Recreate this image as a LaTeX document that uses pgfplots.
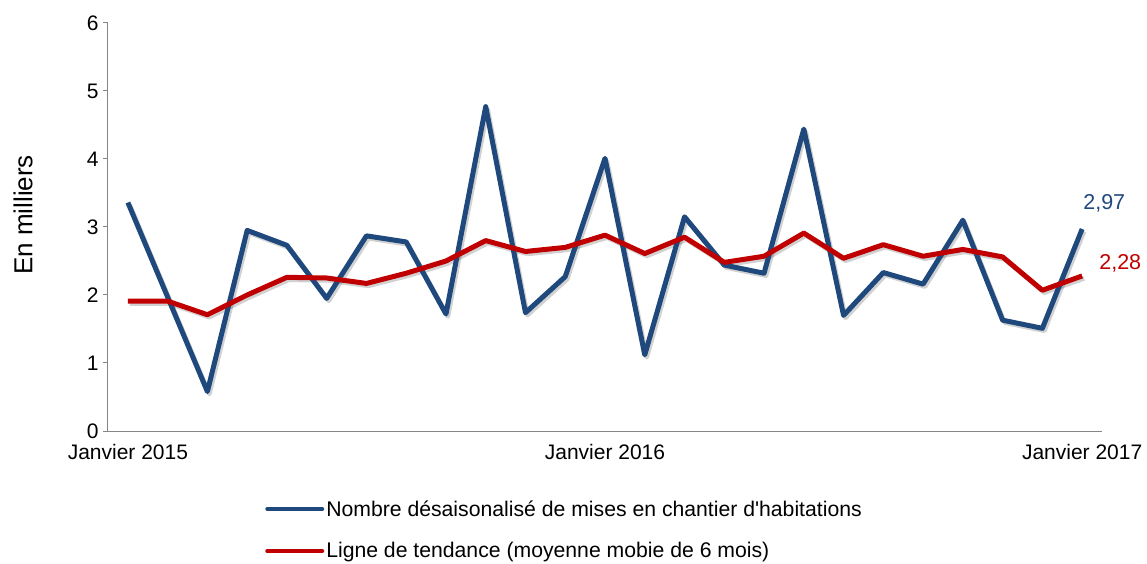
\documentclass[border=0pt]{standalone}
\usepackage{fontspec}
\setmainfont{Liberation Sans}
\newfontfamily\lsans{Liberation Sans}
\usepackage{pgfplots}
\usepackage{pgfplotstable}
\pgfplotsset{compat=1.18}
\definecolor{cblue}{RGB}{31,73,125}
\definecolor{cred}{RGB}{192,0,0}
\definecolor{caxis}{RGB}{134,134,134}

\pgfplotstableread{
x y
0 3.36
1 1.97
2 0.58
3 2.95
4 2.73
5 1.95
6 2.87
7 2.78
8 1.72
9 4.77
10 1.74
11 2.27
12 4.01
13 1.12
14 3.15
15 2.44
16 2.32
17 4.44
18 1.70
19 2.33
20 2.16
21 3.10
22 1.63
23 1.51
24 2.97
}\blueseries

\pgfplotstableread{
x y
0 1.91
1 1.91
2 1.71
3 2.00
4 2.26
5 2.25
6 2.17
7 2.32
8 2.50
9 2.80
10 2.64
11 2.70
12 2.88
13 2.61
14 2.85
15 2.48
16 2.57
17 2.91
18 2.54
19 2.74
20 2.57
21 2.67
22 2.56
23 2.07
24 2.28
}\redseries

\begin{document}
\begin{tikzpicture}
\useasboundingbox (-108pt,-133pt) rectangle (1039pt,431pt);
\begin{axis}[
  at={(0,0)}, anchor=south west,
  scale only axis, width=994pt, height=408pt,
  xmin=-0.5, xmax=24.5, ymin=0, ymax=6,
  axis lines*=left,
  axis line style={caxis, line width=1pt},
  xtick={0,12,24},
  xticklabels={Janvier 2015, Janvier 2016, Janvier 2017},
  ytick={0,1,2,3,4,5,6},
  tick align=outside,
  major tick length=5pt,
  x tick style={draw=none},
  y tick style={caxis, line width=1pt},
  /pgf/number format/assume math mode=true,
  tick label style={font=\fontsize{21}{23}\selectfont, text=black},
  xticklabel style={yshift=-5pt},
  yticklabel style={xshift=-1pt},
  legend style={at={(0.158,-0.165)}, anchor=north west, draw=none, fill=none,
    font=\lsans\fontsize{21.2}{24}\selectfont, row sep=21pt, inner sep=0pt},
  legend cell align=left,
  legend image code/.code={\draw[#1, line width=4pt, line cap=round] (0pt,0pt) -- (55pt,0pt);},
  clip=false,
]
\addplot[forget plot, black, opacity=0.18, line width=4.5pt, line join=round, xshift=2pt, yshift=-2.5pt] table[x=x,y=y] {\blueseries};
\addplot[forget plot, black, opacity=0.18, line width=4.5pt, line join=round, xshift=2pt, yshift=-2.5pt] table[x=x,y=y] {\redseries};
\addplot[cblue, line width=5pt, line join=round] table[x=x,y=y] {\blueseries};
\addlegendentry{Nombre désaisonalisé de mises en chantier d'habitations}
\addplot[cred, line width=5pt, line join=round] table[x=x,y=y] {\redseries};
\addlegendentry{Ligne de tendance (moyenne mobie de 6 mois)}
\node[anchor=south west, text=cblue, font=\fontsize{21.5}{24}\selectfont, inner sep=0pt] at ([xshift=1pt, yshift=17pt]axis cs:24,2.97) {2,97};
\node[anchor=west, text=cred, font=\fontsize{21.5}{24}\selectfont, inner sep=0pt] at ([xshift=17pt, yshift=13pt]axis cs:24,2.28) {2,28};
\end{axis}
\node[rotate=90, font=\fontsize{26}{28}\selectfont] at (-85pt,216pt) {En milliers};
\end{tikzpicture}
\end{document}
